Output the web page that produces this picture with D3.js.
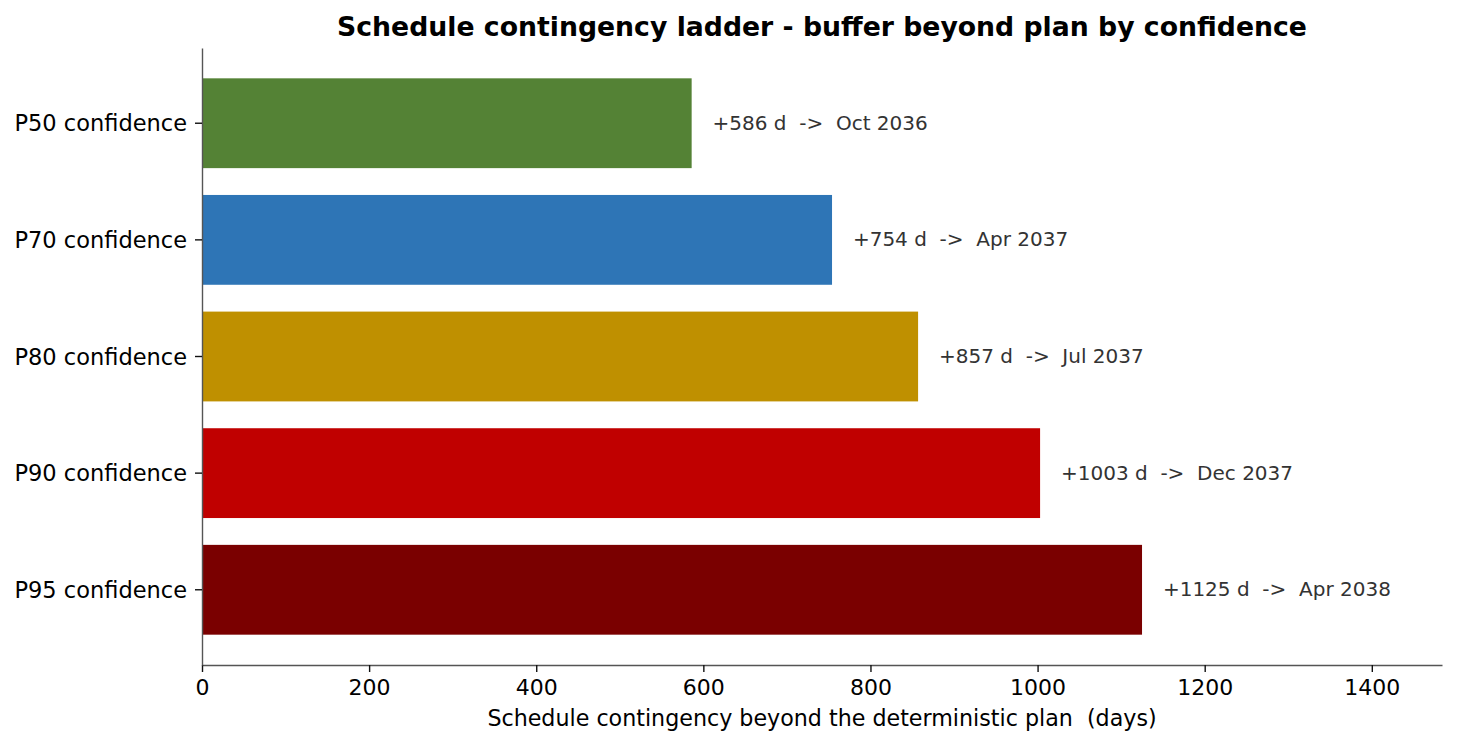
<!DOCTYPE html>
<html><head><meta charset="utf-8">
<script src="https://cdn.jsdelivr.net/npm/d3@7"></script>
<style>body{margin:0;background:#fff}svg{display:block}text{font-family:"DejaVu Sans",sans-serif}</style>
</head><body><svg id="c" width="1458" height="745"></svg>
<script>
const categories = ["P50 confidence","P70 confidence","P80 confidence","P90 confidence","P95 confidence"];
const contingencyDays = [586, 754, 857, 1003, 1125];
const finishDates = ["Oct 2036","Apr 2037","Jul 2037","Dec 2037","Apr 2038"];
const barColors = ["#548235","#2E75B6","#BF9000","#C00000","#7A0000"];
const xTicks = [0,200,400,600,800,1000,1200,1400];
const title = "Schedule contingency ladder - buffer beyond plan by confidence";
const xLabel = "Schedule contingency beyond the deterministic plan  (days)";

const svg = d3.select("#c");
const L = 202, R = 1442, T = 48, B = 665;
const x = d3.scaleLinear().domain([0, 1484]).range([L, R]);
const y = d3.scaleBand().domain(categories).range([T, B]).paddingInner(0.23).paddingOuter(0.26);

svg.selectAll("rect.bar").data(categories).join("rect")
  .attr("class","bar")
  .attr("x", x(0)).attr("y", d => y(d))
  .attr("width", (d,i) => x(contingencyDays[i]) - x(0))
  .attr("height", y.bandwidth())
  .attr("fill", (d,i) => barColors[i]);

svg.selectAll("text.val").data(categories).join("text")
  .attr("class","val")
  .attr("x", (d,i) => x(contingencyDays[i] + 25))
  .attr("y", d => y(d) + y.bandwidth()/2)
  .attr("dy","0.33em")
  .attr("font-size", 20).attr("fill","#333")
  .style("white-space","pre")
  .text((d,i) => `+${contingencyDays[i]} d  ->  ${finishDates[i]}`);

// x axis
const xa = svg.append("g").attr("transform", `translate(0,${B})`)
  .call(d3.axisBottom(x).tickValues(xTicks).tickFormat(d3.format("d")).tickSize(7).tickSizeOuter(0).tickPadding(7));
xa.select(".domain").attr("stroke","#555").attr("stroke-width",1.4);
xa.selectAll(".tick line").attr("stroke","#111").attr("stroke-width",1.4);
xa.selectAll(".tick text").attr("font-size",22).attr("fill","#000").attr("font-family","DejaVu Sans");

// y axis
const ya = svg.append("g").attr("transform", `translate(${L},0)`)
  .call(d3.axisLeft(y).tickSize(7).tickSizeOuter(0).tickPadding(8));
ya.select(".domain").attr("stroke","#555").attr("stroke-width",1.4);
ya.selectAll(".tick line").attr("stroke","#111").attr("stroke-width",1.4);
ya.selectAll(".tick text").attr("font-size",22.5).attr("fill","#000").attr("font-family","DejaVu Sans").attr("dy","0.36em");

svg.append("text").attr("x",(L+R)/2).attr("y",726).attr("text-anchor","middle")
  .attr("font-size",22.2).attr("fill","#000").style("white-space","pre").text(xLabel);

svg.append("text").attr("x",(L+R)/2).attr("y",36).attr("text-anchor","middle")
  .attr("font-size",26.7).attr("font-weight","bold").attr("fill","#000").text(title);
</script></body></html>
